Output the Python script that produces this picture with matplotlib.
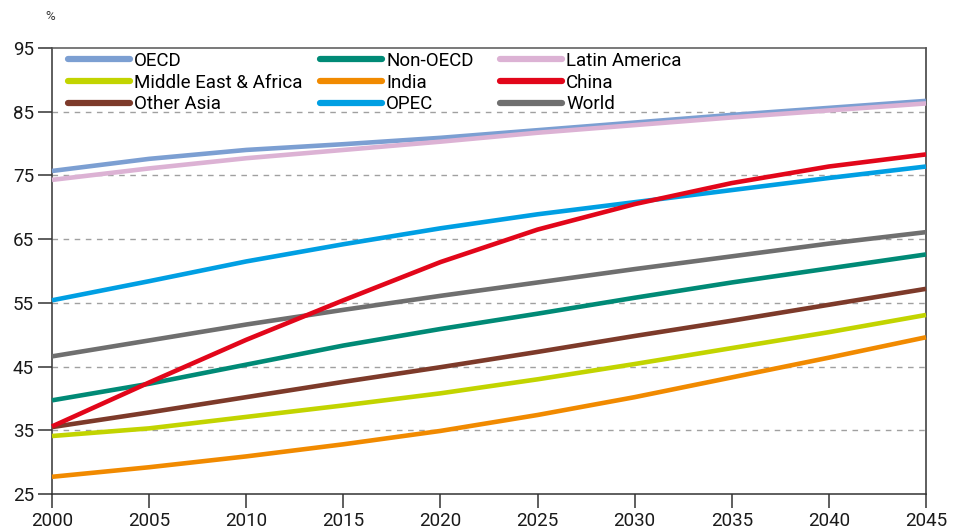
import numpy as np
import matplotlib
matplotlib.use('Agg')
import matplotlib.pyplot as plt
from matplotlib.lines import Line2D

plt.rcParams['font.family'] = ['Roboto', 'DejaVu Sans']

# urbanisation share, %
years = [2000, 2005, 2010, 2015, 2020, 2025, 2030, 2035, 2040, 2045]
oecd = [75.7, 77.6, 79.0, 79.9, 80.9, 82.1, 83.3, 84.5, 85.6, 86.7]
non_oecd = [39.7, 42.3, 45.3, 48.3, 50.9, 53.3, 55.8, 58.2, 60.4, 62.6]
latin_america = [74.3, 76.1, 77.7, 79.0, 80.3, 81.7, 82.9, 84.1, 85.2, 86.3]
mea = [34.1, 35.3, 37.1, 38.9, 40.8, 43.0, 45.4, 47.9, 50.4, 53.1]
india = [27.7, 29.2, 30.9, 32.8, 34.9, 37.4, 40.2, 43.3, 46.4, 49.6]
china = [35.6, 42.5, 49.2, 55.4, 61.4, 66.5, 70.5, 73.8, 76.4, 78.3]
other_asia = [35.5, 37.8, 40.2, 42.6, 44.9, 47.3, 49.8, 52.2, 54.7, 57.2]
opec = [55.4, 58.4, 61.5, 64.2, 66.7, 68.9, 70.8, 72.7, 74.6, 76.4]
world = [46.6, 49.1, 51.6, 53.9, 56.1, 58.2, 60.3, 62.3, 64.3, 66.1]

series = [
    ('OECD', oecd, '#7c9fd2'),
    ('Non-OECD', non_oecd, '#008a76'),
    ('Latin America', latin_america, '#dcb2d4'),
    ('Middle East & Africa', mea, '#c2d400'),
    ('India', india, '#f18a00'),
    ('China', china, '#e2061a'),
    ('Other Asia', other_asia, '#7d3a2a'),
    ('OPEC', opec, '#009fe3'),
    ('World', world, '#6f6f6f'),
]
draw_order = ['OECD', 'Latin America', 'OPEC', 'World', 'Non-OECD',
              'Other Asia', 'Middle East & Africa', 'India', 'China']

fig = plt.figure(figsize=(9.54, 5.32), dpi=100)
ax = fig.add_axes([52/954, 1-494/532, 874/954, 446/532])

lookup = {n: (v, c) for n, v, c in series}
for name in draw_order:
    vals, col = lookup[name]
    ax.plot(years, vals, color=col, lw=3.3, solid_capstyle='butt', clip_on=False,
            zorder=3)

ax.set_xlim(2000, 2045)
ax.set_ylim(25, 95)
ax.set_xticks(range(2000, 2046, 5))
ax.set_yticks(range(25, 96, 10))
for yv in range(35, 86, 10):
    ax.axhline(yv, color='#a0a0a0', lw=1, ls=(0, (4, 4)), zorder=1)

for s in ['left', 'bottom', 'right']:
    ax.spines[s].set_color('#333333')
    ax.spines[s].set_linewidth(1.1)
ax.spines['top'].set_color('#555555')
ax.spines['top'].set_linewidth(1.1)
ax.tick_params(axis='both', direction='out', length=10, width=1.1,
               color='#333333', labelsize=13.5, labelcolor='#1a1a1a', pad=3)
ax.text(-0.008, 1.055, '%', transform=ax.transAxes, fontsize=9.5,
        color='#333333', ha='left', va='bottom')

# legend: three columns placed one by one
cols = [
    ['OECD', 'Middle East & Africa', 'Other Asia'],
    ['Non-OECD', 'India', 'OPEC'],
    ['Latin America', 'China', 'World'],
]
xpos = [64/954, 316/954, 496/954]
for names, xp in zip(cols, xpos):
    handles = [Line2D([], [], color=lookup[n][1], lw=4.5, solid_capstyle='round')
               for n in names]
    fig.legend(handles, names, loc='upper left',
               bbox_to_anchor=(xp, 1-48/532), frameon=False,
               fontsize=13.5, handlelength=3.3, handletextpad=0.25,
               labelspacing=0.2, borderpad=0.2, borderaxespad=0)

fig.savefig('out.png', dpi=100)
